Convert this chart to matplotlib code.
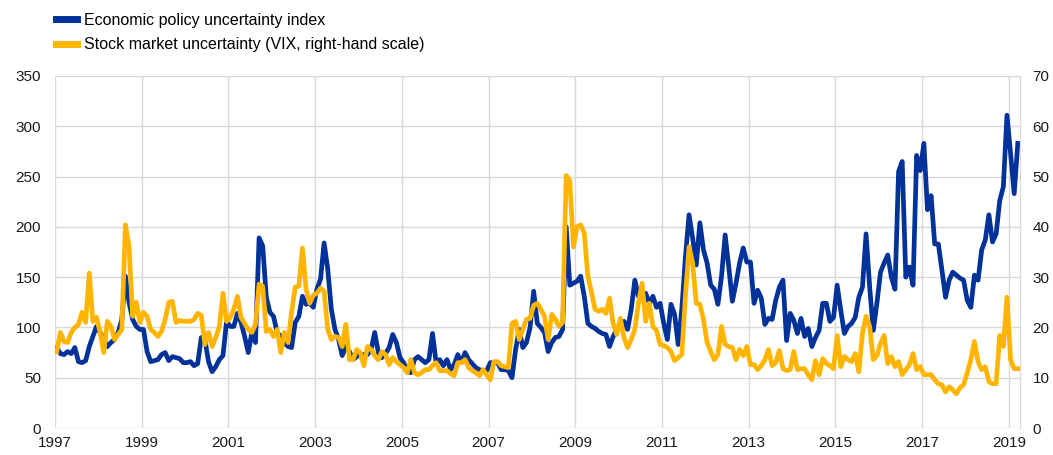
import numpy as np
import matplotlib.pyplot as plt
from matplotlib.lines import Line2D

plt.rcParams['font.family'] = ['Liberation Sans', 'DejaVu Sans']

# monthly data, Jan 1997 - Mar 2019
start_year = 1997

epu = [
    80, 74, 73, 76, 74, 80, 66, 65, 67, 81, 91, 101,         # 1997
    95, 88, 81, 85, 88, 95, 108, 151, 125, 108, 101, 98,     # 1998
    98, 76, 66, 67, 68, 73, 75, 67, 71, 70, 69, 65,          # 1999
    65, 66, 62, 64, 90, 88, 66, 56, 61, 68, 72, 106,         # 2000
    101, 101, 114, 105, 91, 75, 95, 85, 189, 181, 130, 115,  # 2001
    111, 95, 91, 85, 81, 80, 105, 111, 131, 123, 124, 120,   # 2002
    138, 148, 184, 158, 118, 98, 88, 72, 81, 76, 68, 71,     # 2003
    73, 73, 73, 78, 95, 75, 70, 74, 80, 93, 85, 70,          # 2004
    65, 57, 55, 68, 71, 68, 65, 68, 94, 65, 68, 62,          # 2005
    68, 58, 63, 73, 65, 75, 68, 64, 60, 58, 57, 57,          # 2006
    65, 65, 65, 58, 58, 57, 50, 78, 98, 80, 85, 100,         # 2007
    136, 104, 100, 95, 76, 85, 90, 91, 98, 200, 142, 144,    # 2008
    146, 151, 131, 104, 101, 99, 96, 94, 93, 81, 91, 98,     # 2009
    104, 106, 98, 118, 147, 131, 132, 134, 124, 131, 120, 124,  # 2010
    104, 88, 123, 113, 83, 118, 170, 212, 189, 162, 204, 177,   # 2011
    164, 142, 138, 123, 151, 192, 160, 126, 144, 164, 179, 165,  # 2012
    165, 124, 137, 129, 103, 109, 108, 127, 140, 147, 87, 114,   # 2013
    107, 94, 109, 91, 99, 81, 90, 97, 124, 124, 106, 110,       # 2014
    142, 117, 94, 101, 104, 110, 130, 140, 193, 140, 97, 124,   # 2015
    155, 164, 172, 150, 138, 255, 265, 150, 160, 142, 271, 256,  # 2016
    283, 217, 231, 183, 183, 157, 130, 147, 155, 152, 149, 147,  # 2017
    127, 120, 152, 147, 177, 187, 212, 185, 193, 226, 240, 311,  # 2018
    273, 233, 283,                                               # 2019
]

vix = [
    15.2, 19.0, 17.2, 17.0, 19.0, 20.0, 20.6, 23.0, 21.0, 30.8, 21.2, 22.0,  # 1997
    19.0, 15.0, 21.2, 20.2, 17.6, 18.6, 19.6, 40.4, 36.2, 22.2, 25.0, 21.0,  # 1998
    23.0, 22.2, 19.6, 19.0, 18.2, 19.2, 21.6, 25.0, 25.2, 21.0, 21.4, 21.2,  # 1999
    21.2, 21.2, 21.6, 22.8, 22.4, 16.6, 19.0, 16.2, 18.0, 20.2, 26.8, 21.2,  # 2000
    22.0, 23.6, 26.2, 22.0, 20.8, 19.6, 19.0, 20.6, 28.6, 28.2, 19.2, 19.6,  # 2001
    18.2, 19.6, 15.0, 19.0, 17.0, 23.0, 28.0, 28.2, 35.8, 27.6, 24.8, 26.4,  # 2002
    26.8, 27.8, 27.2, 19.6, 17.6, 18.2, 18.0, 16.2, 20.6, 13.6, 13.6, 15.6,  # 2003
    15.0, 12.4, 16.2, 15.6, 14.4, 13.6, 15.2, 14.6, 12.6, 14.0, 13.2, 12.6,  # 2004
    12.0, 11.0, 13.6, 11.0, 10.6, 11.0, 11.6, 11.6, 12.4, 13.0, 11.4, 11.4,  # 2005
    11.4, 10.8, 10.4, 13.0, 13.0, 13.6, 12.0, 11.4, 11.0, 10.4, 11.6, 10.6,  # 2006
    9.6, 13.2, 13.2, 12.4, 12.2, 12.0, 20.8, 21.2, 17.6, 19.6, 21.6, 21.8,   # 2007
    24.4, 24.8, 23.6, 22.2, 17.6, 22.6, 21.6, 20.2, 21.0, 50.2, 49.2, 36.0,  # 2008
    40.0, 40.4, 38.8, 30.2, 27.0, 23.6, 23.2, 23.6, 22.8, 25.8, 20.8, 18.6,  # 2009
    21.8, 18.0, 16.0, 17.6, 19.6, 24.8, 28.8, 21.2, 24.8, 20.2, 19.4, 16.6,  # 2010
    16.4, 16.0, 15.2, 13.4, 14.0, 14.6, 26.2, 36.0, 32.8, 24.8, 24.6, 21.6,  # 2011
    17.0, 15.2, 13.6, 14.6, 20.2, 16.6, 16.2, 16.0, 13.6, 15.6, 14.4, 16.2,  # 2012
    12.6, 12.6, 11.6, 12.4, 13.6, 15.6, 12.4, 13.0, 15.4, 11.8, 11.4, 11.6,  # 2013
    15.2, 11.6, 11.8, 11.8, 10.6, 9.6, 13.4, 10.6, 13.8, 12.8, 12.4, 11.8,   # 2014
    18.4, 12.2, 14.2, 13.6, 13.2, 14.8, 11.2, 18.8, 22.2, 20.2, 13.6, 14.4,  # 2015
    16.8, 18.4, 12.8, 14.2, 12.2, 13.2, 10.6, 11.6, 12.6, 14.8, 11.6, 12.2,  # 2016
    10.6, 10.6, 10.6, 9.6, 8.8, 8.6, 7.2, 8.2, 7.6, 6.8, 8.0, 8.6,           # 2017
    11.0, 13.6, 17.2, 13.2, 11.6, 12.2, 9.2, 8.8, 8.8, 18.4, 16.2, 26.0,     # 2018
    13.6, 11.8, 11.8,                                                        # 2019
]

year_ticks = list(range(1997, 2020, 2))
left_ticks = list(range(0, 351, 50))
right_ticks = list(range(0, 71, 10))

blue = '#003299'
yellow = '#ffb400'
grid_col = '#d9d9d9'

# months plotted at mid-month
t = start_year + (np.arange(len(epu)) + 0.5) / 12

fig = plt.figure(figsize=(10.53, 4.55), dpi=100)
ax = fig.add_axes([0.0522, 0.0593, 0.9165, 0.7737])
ax2 = ax.twinx()

ax.plot(t, epu, color=blue, lw=3.4, solid_joinstyle='round')
ax2.plot(t, vix, color=yellow, lw=3.4, solid_joinstyle='round')

ax.set_xlim(1997, 2019.26)
ax.set_ylim(0, 350)
ax2.set_ylim(0, 70)
ax.set_xticks(year_ticks)
ax.set_yticks(left_ticks)
ax2.set_yticks(right_ticks)

ax.grid(True, color=grid_col, lw=1.0)
ax.set_axisbelow(True)
for a in (ax, ax2):
    for s in ['top', 'left', 'bottom']:
        a.spines[s].set_visible(False)
    a.spines['right'].set_color(grid_col)
    a.tick_params(length=0, labelsize=11, colors='#1a1a1a')
ax.tick_params(axis='x', pad=6)
ax.tick_params(axis='y', pad=10)
ax2.tick_params(axis='y', pad=9)

handles = [Line2D([0], [0], color=blue, lw=5),
           Line2D([0], [0], color=yellow, lw=5)]
labels = ['Economic policy uncertainty index',
          'Stock market uncertainty (VIX, right-hand scale)']
fig.legend(handles, labels, loc='upper left', bbox_to_anchor=(0.053, 0.972),
           frameon=False, fontsize=11.5, handlelength=1.3, handletextpad=0.45,
           borderpad=0, borderaxespad=0, labelspacing=0.6)

fig.savefig('out.png', dpi=100)
